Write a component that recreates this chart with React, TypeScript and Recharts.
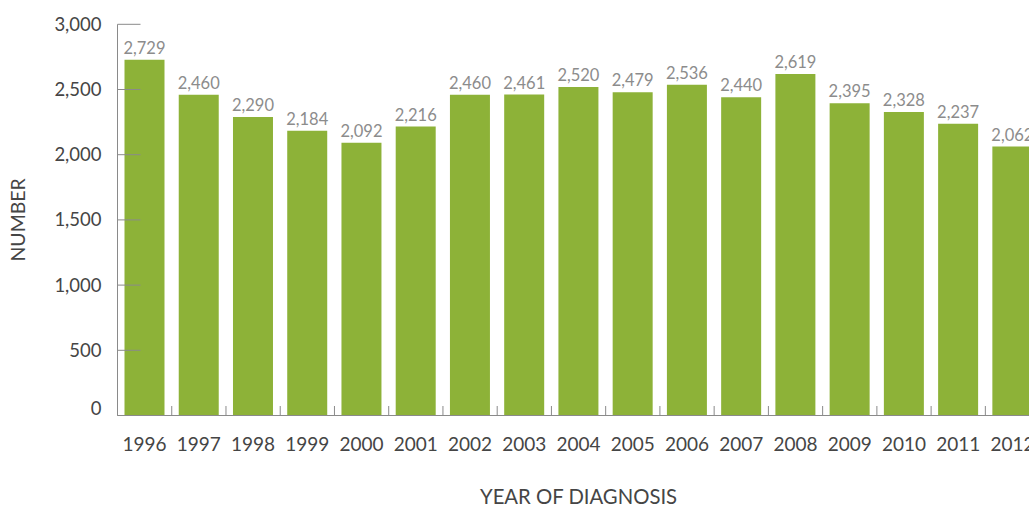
import React from 'react';
import { BarChart, Bar, XAxis, YAxis, LabelList } from 'recharts';

const years = ['1996', '1997', '1998', '1999', '2000', '2001', '2002', '2003', '2004', '2005', '2006', '2007', '2008', '2009', '2010', '2011', '2012'];
const counts = [2729, 2460, 2290, 2184, 2092, 2216, 2460, 2461, 2520, 2479, 2536, 2440, 2619, 2395, 2328, 2237, 2062];
const yTicks = [0, 500, 1000, 1500, 2000, 2500, 3000];

const data = years.map((year, i) => ({ year, count: counts[i] }));

const FONT = 'Lato, "Open Sans", sans-serif';
const AXIS = '#8a8a8a';
const TEXT = '#454545';
const VALUE = '#8c8c8c';
const BAR = '#8db238';

const fmt = (v: number) => v.toLocaleString('en-US');

const XTick = (props: any) => {
  const { x, y, payload } = props;
  const half = payload && typeof payload.offset === 'number' ? payload.offset : 27.12;
  return (
    <g>
      <line x1={x - half} x2={x - half} y1={y - 9.5} y2={y} stroke={AXIS} strokeWidth={1} />
      <text x={x} y={y + 35} textAnchor="middle" fill={TEXT} fontSize={19} fontFamily={FONT}>
        {payload.value}
      </text>
    </g>
  );
};

const YTick = (props: any) => {
  const { x, y, payload } = props;
  const lift = payload.value === 0 ? -7 : 0;
  return (
    <g>
      <line x1={x} x2={x + 23} y1={y} y2={y} stroke={AXIS} strokeWidth={1} />
      <text x={x - 16} y={y + lift} dy="0.35em" textAnchor="end" fill={TEXT} fontSize={18.5} fontFamily={FONT}>
        {fmt(payload.value)}
      </text>
    </g>
  );
};

const YLabel = (props: any) => {
  const vb = props.viewBox || { x: 0, y: 24, width: 117, height: 391 };
  const cx = 18.5;
  const cy = vb.y + vb.height / 2;
  return (
    <text x={cx} y={cy} dy="0.35em" textAnchor="middle" transform={`rotate(-90 ${cx} ${cy})`} fill={TEXT} fontSize={19.5} fontFamily={FONT}>
      NUMBER
    </text>
  );
};

const XLabel = (props: any) => {
  const vb = props.viewBox || { x: 117, y: 415, width: 922, height: 90 };
  const cx = vb.x + vb.width / 2;
  return (
    <text x={cx} y={504} textAnchor="middle" fill={TEXT} fontSize={20.3} fontFamily={FONT}>
      YEAR OF DIAGNOSIS
    </text>
  );
};

export default function App() {
  return (
    <div style={{ position: 'fixed', left: 0, top: 0, width: 1029, height: 506, overflow: 'hidden', background: '#fff' }}>
      <BarChart
        width={1050}
        height={506}
        data={data}
        margin={{ top: 24.3, right: 10.4, bottom: 0, left: 0 }}
        barSize={40}
      >
        <XAxis
          dataKey="year"
          height={90.5}
          tickLine={false}
          tickSize={0}
          tickMargin={0}
          stroke={AXIS}
          tick={<XTick />}
          interval={0}
          label={<XLabel />}
        />
        <YAxis
          width={117.5}
          domain={[0, 3000]}
          ticks={yTicks}
          tickLine={false}
          tickSize={0}
          tickMargin={0}
          stroke={AXIS}
          tick={<YTick />}
          interval={0}
          label={<YLabel />}
        />
        <Bar dataKey="count" fill={BAR} isAnimationActive={false}>
          <LabelList dataKey="count" position="top" offset={6} formatter={(v: any) => fmt(Number(v))} fill={VALUE} fontSize={16.5} fontFamily={FONT} />
        </Bar>
      </BarChart>
    </div>
  );
}
